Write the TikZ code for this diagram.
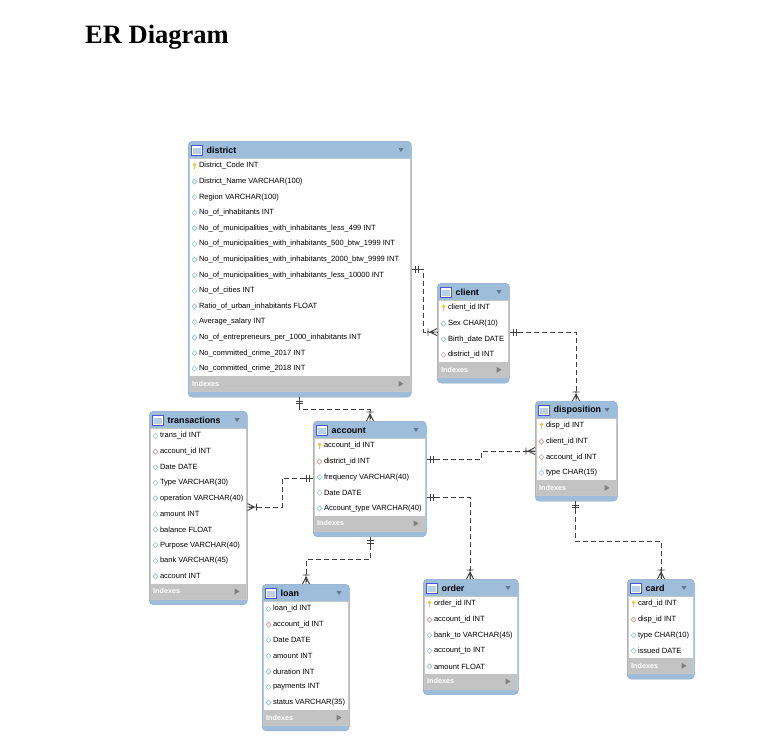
\documentclass[tikz,border=0pt]{standalone}
\usepackage{fontspec}
\setmainfont{Liberation Serif}
\setsansfont{Liberation Sans}
\usetikzlibrary{calc}
\definecolor{hdr}{HTML}{9DBDDA}
\definecolor{hdrline}{HTML}{8AAAC8}
\definecolor{idx}{HTML}{C3C3C3}
\definecolor{colc}{HTML}{95C4D6}
\definecolor{fkc}{HTML}{D89C9C}
\definecolor{keyc}{HTML}{F2C230}
\definecolor{lnk}{HTML}{404040}
\tikzset{
 tbl/.style={draw=hdrline, fill=hdr, rounded corners=4pt, inner sep=0pt, anchor=north west, line width=0.5pt},
 rowtext/.style={anchor=west, inner sep=0pt, font=\fontsize{7.55}{8}\sffamily, text=black},
 ttl/.style={anchor=west, inner sep=0pt, font=\fontsize{8.9}{10}\sffamily\bfseries},
 idxtext/.style={anchor=west, inner sep=0pt, font=\fontsize{7.2}{8}\sffamily\bfseries, text=white},
 rel/.style={draw=lnk, line width=0.95pt, dash pattern=on 5pt off 3pt},
 pics/onemark/.style={code={\draw[lnk, line width=0.9pt] (0,0)--(8,0) (4,-3.5)--(4,3.5) (6.5,-3.5)--(6.5,3.5);}},
 pics/manymark/.style={code={\draw[lnk, line width=0.9pt] (0,0)--(10,0) (0,-3.5)--(7,0)--(0,3.5) (9,-3.5)--(9,3.5);}},
}
\newcommand{\ertable}[7]{%
  \pgfmathsetmacro\tW{#4-#2}%
  \pgfmathsetmacro\tH{53+(#5-1)*15.6}%
  \pgfmathsetmacro\iT{#3+25+(#5-1)*15.6+7.5}%
  \node[tbl, minimum width=\tW pt, minimum height=\tH pt] (#1) at (#2,#3) {};
  \fill[white] ({#2+1.3},{#3+17}) rectangle ({#4-1.3},\iT);
  \fill[idx] ({#2+1.3},\iT) rectangle ({#4-1.3},{\iT+15});
  \draw[black!22, line width=0.4pt] ({#2+1.3},{#3+17}) rectangle ({#4-1.3},{\iT+15});
  \draw[fill=white, draw=hdrline!50!blue, line width=0.5pt] ({#2+3.5},{#3+4.5}) rectangle ({#2+14},{#3+14});
  \fill[hdr!70] ({#2+5},{#3+6.5}) rectangle ({#2+12.5},{#3+12.5});
  \node[ttl] at ({#2+18.5},{#3+9.5}) {#6};
  \fill[hdrline!70!black] ({#4-12.5},{#3+7}) -- ({#4-7.5},{#3+7}) -- ({#4-10},{#3+11}) -- cycle;
  \node[idxtext] at ({#2+4},{\iT+7.5}) {Indexes};
  \fill[black!50] ({#4-12.5},{\iT+4.5}) -- ({#4-12.5},{\iT+10.5}) -- ({#4-7.5},{\iT+7.5}) -- cycle;
  \foreach \ty/\tx [count=\i] in {#7} {
    \pgfmathsetmacro\ry{#3+25+(\i-1)*15.6}
    \ifcase\ty\relax
      \draw[colc, fill=white, line width=0.6pt] ({#2+6.5},{\ry-2.5}) -- ({#2+9},\ry) -- ({#2+6.5},{\ry+2.5}) -- ({#2+4},\ry) -- cycle;
    \or
      \fill[keyc] ({#2+6.5},{\ry-1.5}) circle (1.9);
      \fill[keyc] ({#2+6},{\ry-1}) rectangle ({#2+7},{\ry+3.2});
    \or
      \draw[fkc, fill=white, line width=0.6pt] ({#2+6.5},{\ry-2.5}) -- ({#2+9},\ry) -- ({#2+6.5},{\ry+2.5}) -- ({#2+4},\ry) -- cycle;
    \fi
    \node[rowtext] at ({#2+10.8},\ry) {\tx};
  }
}
\begin{document}
\begin{tikzpicture}[x=1pt,y=-1pt]
\useasboundingbox[fill=white] (0,0) rectangle (757,748);
\node[anchor=base west, inner sep=0pt, font=\fontsize{26.5}{30}\selectfont\bfseries] (title) at (85,43) {ER Diagram};

\ertable{district}{188}{141}{411}{14}{district}{1/District\_Code INT, 0/District\_Name VARCHAR(100), 0/Region VARCHAR(100), 0/No\_of\_inhabitants INT, 0/No\_of\_municipalities\_with\_inhabitants\_less\_499 INT, 0/No\_of\_municipalities\_with\_inhabitants\_500\_btw\_1999 INT, 0/No\_of\_municipalities\_with\_inhabitants\_2000\_btw\_9999 INT, 0/No\_of\_municipalities\_with\_inhabitants\_less\_10000 INT, 0/No\_of\_cities INT, 0/Ratio\_of\_urban\_inhabitants FLOAT, 0/Average\_salary INT, 0/No\_of\_entrepreneurs\_per\_1000\_inhabitants INT, 0/No\_committed\_crime\_2017 INT, 0/No\_committed\_crime\_2018 INT}
\ertable{client}{437}{283}{509}{4}{client}{1/client\_id INT, 0/Sex CHAR(10), 0/Birth\_date DATE, 2/district\_id INT}
\ertable{disposition}{535}{401}{617}{4}{disposition}{1/disp\_id INT, 2/client\_id INT, 2/account\_id INT, 0/type CHAR(15)}
\ertable{transactions}{149}{411}{247}{10}{transactions}{0/trans\_id INT, 2/account\_id INT, 0/Date DATE, 0/Type VARCHAR(30), 0/operation VARCHAR(40), 0/amount INT, 0/balance FLOAT, 0/Purpose VARCHAR(40), 0/bank VARCHAR(45), 0/account INT}
\ertable{account}{313}{421}{426}{5}{account}{1/account\_id INT, 2/district\_id INT, 0/frequency VARCHAR(40), 0/Date DATE, 0/Account\_type VARCHAR(40)}
\ertable{loan}{262}{584}{349}{7}{loan}{0/loan\_id INT, 2/account\_id INT, 0/Date DATE, 0/amount INT, 0/duration INT, 0/payments INT, 0/status VARCHAR(35)}
\ertable{order}{423}{579}{518}{5}{order}{1/order\_id INT, 2/account\_id INT, 0/bank\_to VARCHAR(45), 0/account\_to INT, 0/amount FLOAT}
\ertable{card}{627}{579}{694}{4}{card}{1/card\_id INT, 2/disp\_id INT, 0/type CHAR(10), 0/issued DATE}

\coordinate (c1a) at ($(district.north east)+(0,128)$);
\coordinate (c1b) at ($(client.north west)+(0,49)$);
\coordinate (c2a) at ($(client.north east)+(0,49)$);
\coordinate (c2b) at ($(disposition.north west)+(41,0)$);
\coordinate (c3a) at ($(account.north east)+(0,38)$);
\coordinate (c3b) at ($(disposition.north west)+(0,50)$);
\coordinate (c4a) at ($(account.north east)+(0,76)$);
\coordinate (c4b) at ($(order.north west)+(47,0)$);
\coordinate (c5a) at ($(account.north west)+(0,57)$);
\coordinate (c5b) at ($(transactions.north east)+(0,96)$);
\coordinate (c6a) at ($(district.south west)+(111,0)$);
\coordinate (c6b) at ($(account.north west)+(57,0)$);
\coordinate (c7a) at ($(account.south west)+(57,0)$);
\coordinate (c7b) at ($(loan.north west)+(44,0)$);
\coordinate (c8a) at ($(disposition.south west)+(40,0)$);
\coordinate (c8b) at ($(card.north west)+(34,0)$);

\draw[rel] (c1a) -- ++(12,0) |- (c1b);
\draw[rel] (c2a) -| (c2b);
\draw[rel] (c3a) -- ++(55,0) |- (c3b);
\draw[rel] (c4a) -| (c4b);
\draw[rel] (c5a) -- ++(-31,0) |- (c5b);
\draw[rel] (c6a) -- ++(0,12) -| (c6b);
\draw[rel] (c7a) -- ++(0,23) -| (c7b);
\draw[rel] (c8a) -- ++(0,40) -| (c8b);

\pic[rotate=0] at (c1a) {onemark};
\pic[rotate=0] at (c2a) {onemark};
\pic[rotate=0] at (c3a) {onemark};
\pic[rotate=0] at (c4a) {onemark};
\pic[rotate=180] at (c5a) {onemark};
\pic[rotate=270] at (c6a) {onemark};
\pic[rotate=270] at (c7a) {onemark};
\pic[rotate=270] at (c8a) {onemark};
\pic[rotate=180] at (c1b) {manymark};
\pic[rotate=90] at (c2b) {manymark};
\pic[rotate=180] at (c3b) {manymark};
\pic[rotate=90] at (c4b) {manymark};
\pic[rotate=0] at (c5b) {manymark};
\pic[rotate=90] at (c6b) {manymark};
\pic[rotate=90] at (c7b) {manymark};
\pic[rotate=90] at (c8b) {manymark};
\end{tikzpicture}
\end{document}
